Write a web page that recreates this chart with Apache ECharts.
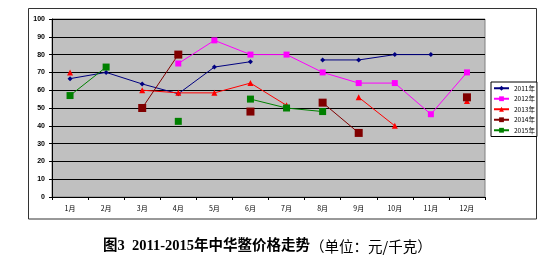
<!DOCTYPE html>
<html><head><meta charset="utf-8">
<script src="https://cdn.jsdelivr.net/npm/echarts@6/dist/echarts.min.js"></script>
<style>html,body{margin:0;padding:0;background:#fff}#c{width:550px;height:268px}</style>
</head><body><div id="c"></div>
<script>
var months = ['1月','2月','3月','4月','5月','6月','7月','8月','9月','10月','11月','12月'];
var yTicks = [0,10,20,30,40,50,60,70,80,90,100];
var s2011 = [66.5, 70, 63.5, 58, 73, 76, null, 77, 77, 80, 80, null];
var s2012 = [null, null, null, 75, 88, 80, 80, 70, 64, 64, 46.5, 70];
var s2013 = [70, null, 60, 58.5, 58.5, 64, 51.5, null, 56, 40, null, 54];
var s2014 = [null, null, 50, 80, null, 48, null, 53, 36, null, null, 56];
var s2015 = [57, 73, null, 42.5, null, 55, 50, 48, null, null, null, null];
var names = ['2011年','2012年','2013年','2014年','2015年'];

var chart = echarts.init(document.getElementById('c'));
function ser(name, data, color, symbol, size, width) {
  return {name:name, type:'line', data:data, connectNulls:false, symbol:symbol, symbolSize:size,
    lineStyle:{color:color, width:width}, itemStyle:{color:color}, animation:false};
}
chart.setOption({
  backgroundColor:'#fff',
  animation:false,
  graphic:[
    {type:'rect', shape:{x:28.5,y:8.5,width:508,height:210.5}, style:{fill:null, stroke:'#333', lineWidth:1}, z:-10},
    {type:'text', left:103, top:239, style:{
      text:'{b|图3  2011-2015年中华鳖价格走势}{n|（单位：元/千克）}',
      rich:{b:{fontFamily:'Liberation Serif, Noto Sans CJK SC', fontWeight:'bold', fontSize:14.5, fill:'#000'},
            n:{fontFamily:'Noto Sans CJK SC', fontSize:14.5, fill:'#000'}}
    }}
  ],
  grid:{left:52, top:19, width:433, height:178, show:true, backgroundColor:'#c0c0c0', borderColor:'#808080', borderWidth:1},
  legend:{
    orient:'vertical', left:491, top:82, data:names,
    itemWidth:15, itemHeight:6, itemGap:4,
    padding:[3,2,3,2], borderColor:'#000', borderWidth:1, backgroundColor:'#fff',
    textStyle:{fontSize:6.5, color:'#000', fontFamily:'Noto Sans CJK SC'}
  },
  xAxis:{type:'category', data:months, boundaryGap:true,
    axisLine:{lineStyle:{color:'#000', width:1}},
    axisTick:{show:true, inside:false, length:3, lineStyle:{color:'#000'}},
    axisLabel:{fontSize:7, color:'#000', margin:8, fontFamily:'Noto Sans CJK SC'},
    splitLine:{show:false}},
  yAxis:{type:'value', min:0, max:100, interval:10,
    axisLine:{show:true, lineStyle:{color:'#000', width:1}},
    axisTick:{show:true, length:3, lineStyle:{color:'#000'}},
    axisLabel:{fontSize:7, color:'#000', fontWeight:'bold', margin:7},
    splitLine:{show:true, lineStyle:{color:'#000', width:1}}},
  series:[
    ser(names[0], s2011, '#000080', 'diamond', 5, 1),
    ser(names[1], s2012, '#ff00ff', 'rect', 6, 1),
    ser(names[2], s2013, '#ff0000', 'triangle', 6, 1),
    ser(names[3], s2014, '#800000', 'rect', 8, 1),
    ser(names[4], s2015, '#008000', 'rect', 7, 1)
  ]
});
</script></body></html>
